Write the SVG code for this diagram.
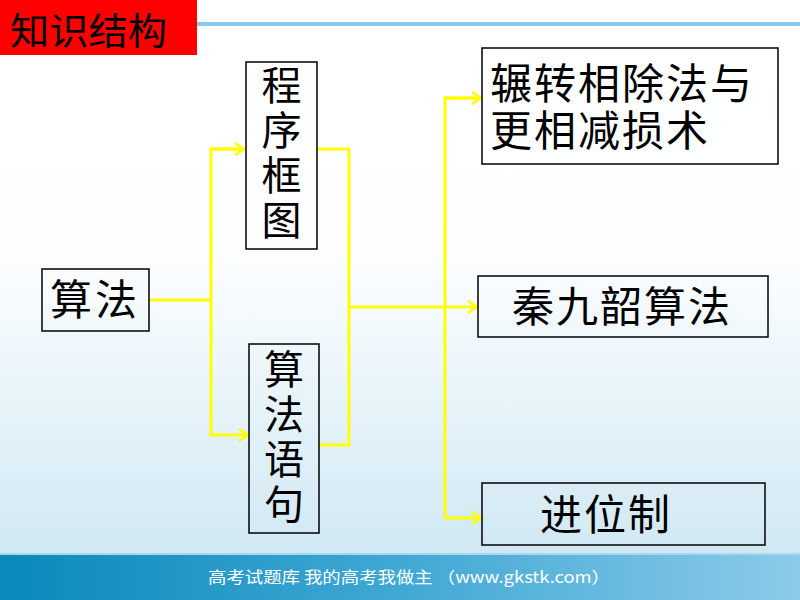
<svg xmlns="http://www.w3.org/2000/svg" width="800" height="600" viewBox="0 0 800 600">
<defs>
<linearGradient id="bg" x1="0" y1="0" x2="0" y2="1">
<stop offset="0" stop-color="#ffffff"/>
<stop offset="0.42" stop-color="#fdfeff"/>
<stop offset="1" stop-color="#c9e5f2"/>
</linearGradient>
<linearGradient id="foot" x1="0" y1="0" x2="1" y2="0">
<stop offset="0" stop-color="#0a89ba"/>
<stop offset="0.5" stop-color="#40a8d4"/>
<stop offset="1" stop-color="#8ccbe9"/>
</linearGradient>
<marker id="arr" markerWidth="14" markerHeight="14" refX="11" refY="7" orient="auto" markerUnits="userSpaceOnUse">
<path d="M2,1 L11,7 L2,13" fill="none" stroke="#ffff00" stroke-width="2.5"/>
</marker>
<style>
.box{fill:none;stroke:#000;stroke-width:1.5}
.t{font-family:"Noto Sans CJK SC","Noto Sans CJK TC",sans-serif;fill:#000;font-size:42px;letter-spacing:2px}
.v{font-family:"Noto Sans CJK SC","Noto Sans CJK TC",sans-serif;fill:#000;font-size:40px}
.c{fill:none;stroke:#ffff00;stroke-width:3}
</style>
</defs>
<rect x="0" y="0" width="800" height="600" fill="url(#bg)"/>
<rect x="197" y="22" width="603" height="4" fill="#88c8e6"/>
<rect x="0" y="553" width="800" height="47" fill="url(#foot)"/>
<rect x="0" y="553" width="800" height="2" fill="#a9d8ee"/>
<text x="208" y="583" font-family="'Noto Sans CJK SC',sans-serif" font-size="16" fill="#ffffff" textLength="402" lengthAdjust="spacingAndGlyphs">高考试题库 我的高考我做主 （www.gkstk.com）</text>

<g id="title">
<rect x="0" y="0" width="197" height="55" fill="#ff0000"/>
<text x="10" y="45" font-family="'Noto Sans CJK SC',sans-serif" font-size="37" fill="#000" textLength="157" lengthAdjust="spacingAndGlyphs">知识结构</text>
</g>

<g id="connectors">
<polyline class="c" points="149,300 211,300"/>
<polyline class="c" points="244,149 211,149 211,435 248,435" marker-end="url(#arr)"/>
<line class="c" x1="211" y1="149" x2="244" y2="149" marker-end="url(#arr)"/>
<polyline class="c" points="317,149 349,149 349,445 319,445"/>
<line class="c" x1="349" y1="307" x2="477" y2="307" marker-end="url(#arr)"/>
<polyline class="c" points="481,98 445,98 445,518 481,518" marker-end="url(#arr)"/>
<line class="c" x1="445" y1="98" x2="481" y2="98" marker-end="url(#arr)"/>
</g>

<g id="n_suanfa">
<rect class="box" x="42" y="269" width="107" height="62"/>
<text class="t" x="50" y="315" style="letter-spacing:3px">算法</text>
</g>

<g id="n_chengxu">
<rect class="box" x="246" y="62" width="71" height="187"/>
<text class="v" x="281.5" y="100" text-anchor="middle">程</text>
<text class="v" x="281.5" y="145" text-anchor="middle">序</text>
<text class="v" x="281.5" y="190" text-anchor="middle">框</text>
<text class="v" x="281.5" y="235" text-anchor="middle">图</text>
</g>

<g id="n_yuju">
<rect class="box" x="249" y="344" width="70" height="189"/>
<text class="v" x="284" y="384" text-anchor="middle">算</text>
<text class="v" x="284" y="429" text-anchor="middle">法</text>
<text class="v" x="284" y="474" text-anchor="middle">语</text>
<text class="v" x="284" y="519" text-anchor="middle">句</text>
</g>

<g id="n_zhanzhuan">
<rect class="box" x="482" y="48" width="296" height="116"/>
<text class="t" x="490" y="99">辗转相除法与</text>
<text class="t" x="490" y="146">更相减损术</text>
</g>

<g id="n_qin">
<rect class="box" x="478" y="276" width="290" height="61"/>
<text class="t" x="512" y="322">秦九韶算法</text>
</g>

<g id="n_jinwei">
<rect class="box" x="482" y="483" width="283" height="62"/>
<text class="t" x="540" y="530">进位制</text>
</g>
</svg>
